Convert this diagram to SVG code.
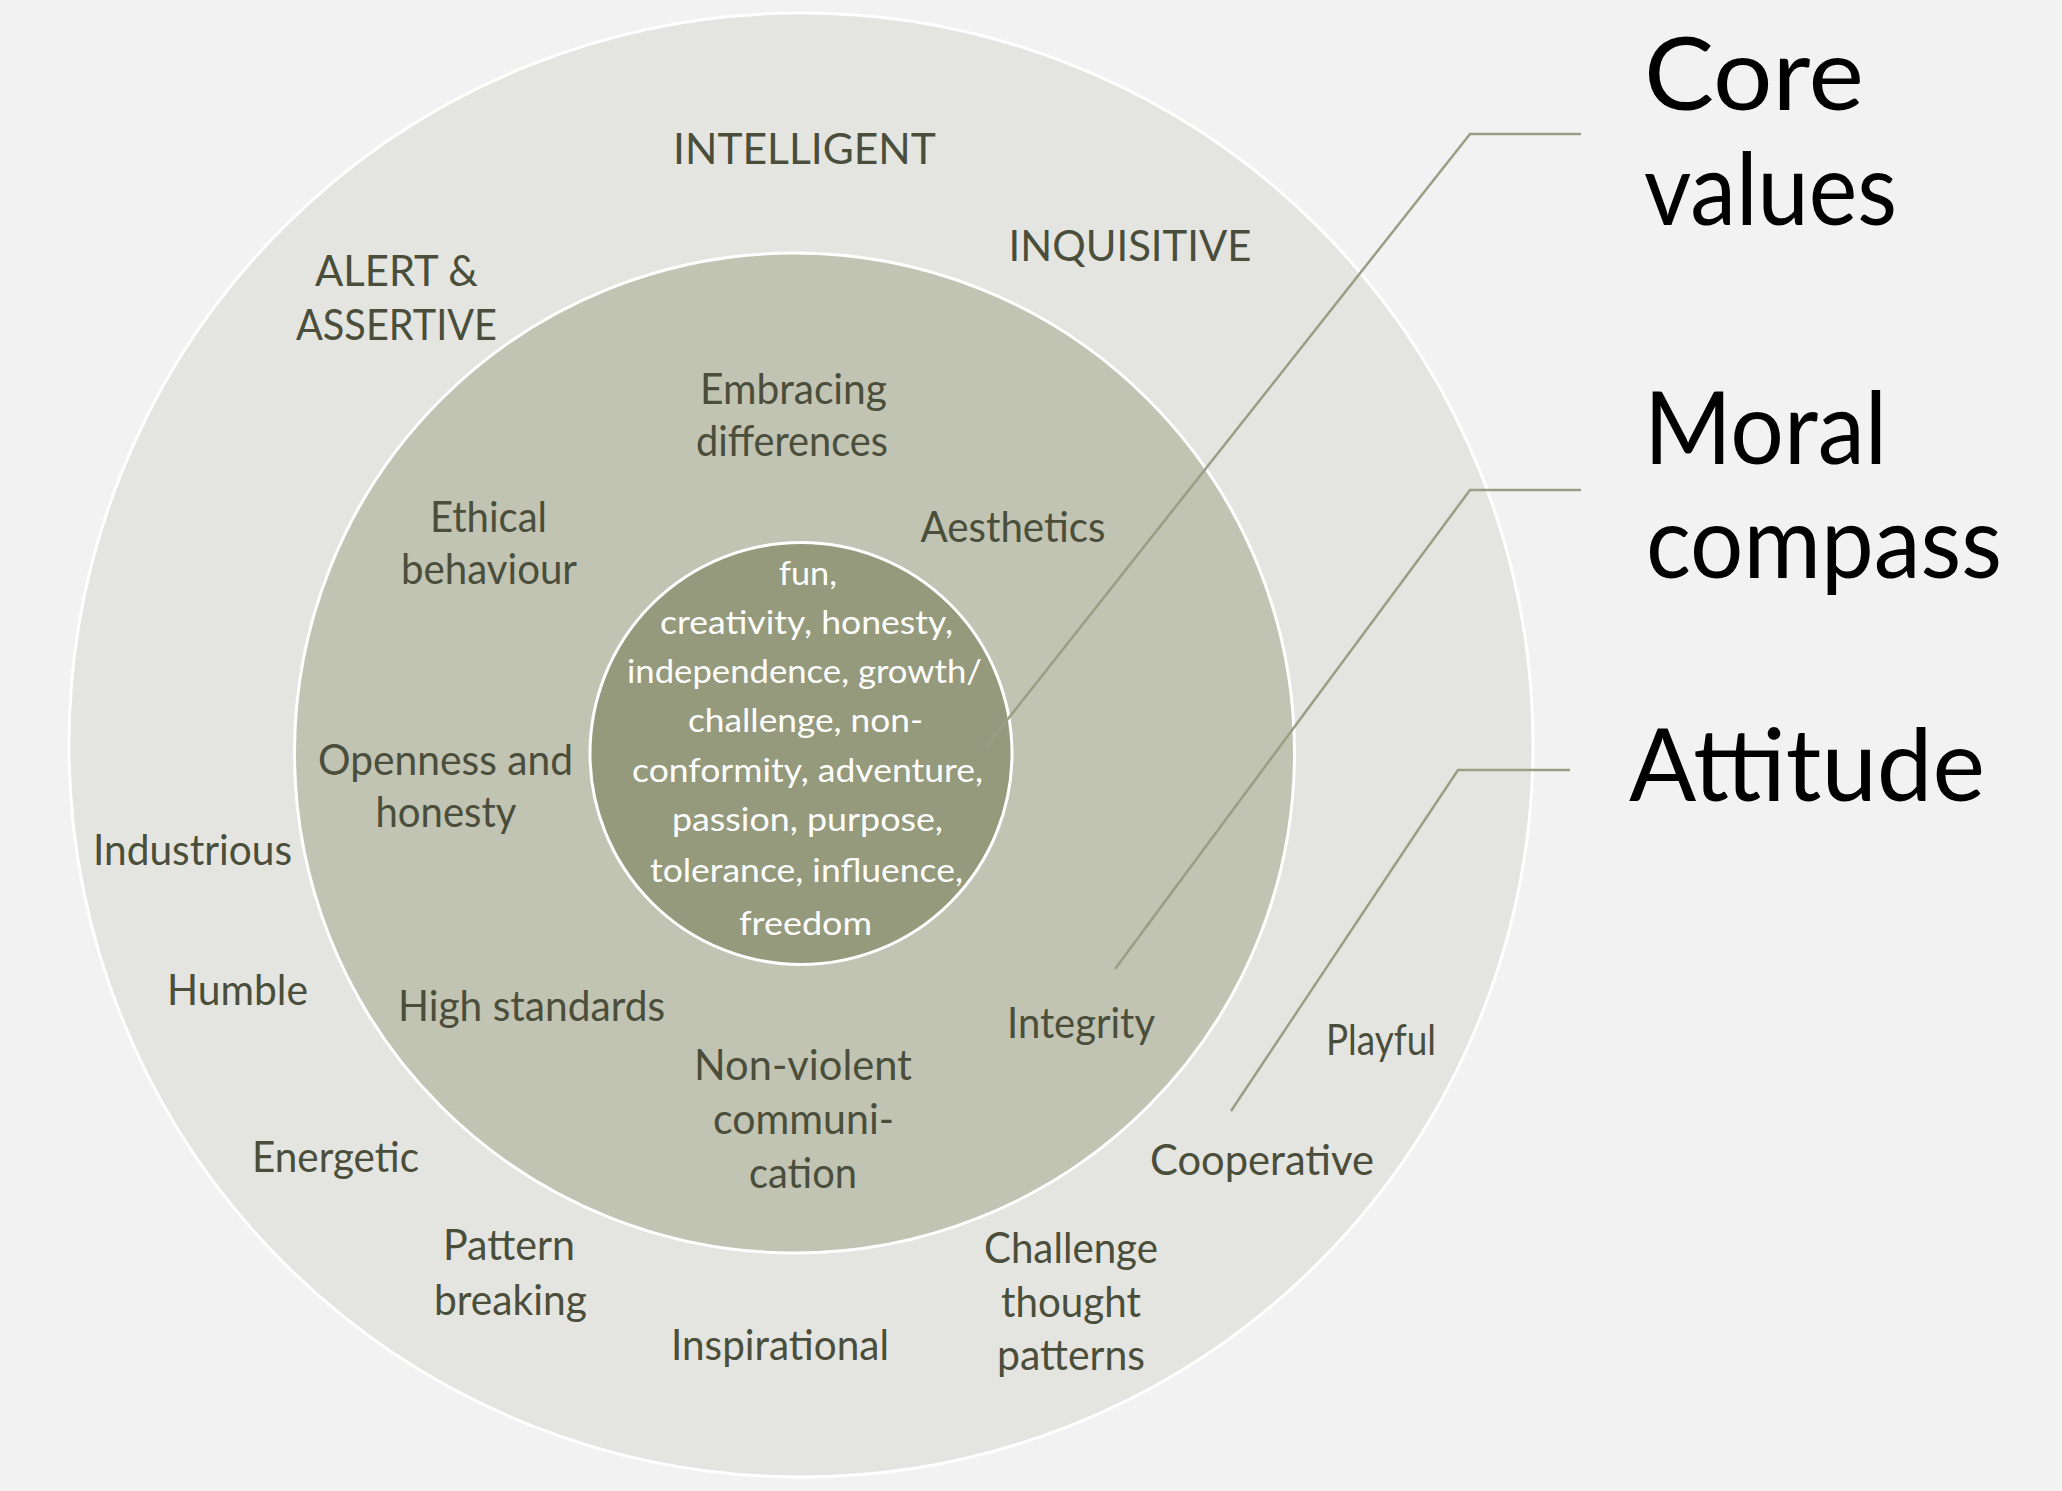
<svg xmlns="http://www.w3.org/2000/svg" width="2062" height="1491" viewBox="0 0 2062 1491">
<style>
.t{font-family:Lato,"Open Sans","Liberation Sans",sans-serif;font-size:42px;fill:#4a4e3a;text-anchor:middle}
.w{font-family:Lato,"Open Sans","Liberation Sans",sans-serif;font-size:32px;fill:#ffffff;text-anchor:middle}
.b{font-family:Lato,"Open Sans","Liberation Sans",sans-serif;font-size:100px;fill:#000000}
.ring{stroke:#ffffff;stroke-width:3}
.conn{fill:none;stroke:#9a9e84;stroke-width:2.5}
</style>
<rect x="0" y="0" width="2062" height="1491" fill="#f2f2f2"/>
<g id="attitude-ring">
<circle class="ring" cx="801" cy="745" r="732" fill="#e4e5e0"/>
<text class="t" x="804.5" y="164" textLength="263" lengthAdjust="spacingAndGlyphs">INTELLIGENT</text>
<text class="t" x="1130" y="261" textLength="243" lengthAdjust="spacingAndGlyphs">INQUISITIVE</text>
<text class="t" x="396.5" y="286" textLength="163" lengthAdjust="spacingAndGlyphs">ALERT &amp;</text>
<text class="t" x="396.5" y="340" textLength="201" lengthAdjust="spacingAndGlyphs">ASSERTIVE</text>
<text class="t" x="192.5" y="865" textLength="199" lengthAdjust="spacingAndGlyphs">Industrious</text>
<text class="t" x="237.5" y="1005" textLength="141" lengthAdjust="spacingAndGlyphs">Humble</text>
<text class="t" x="335.5" y="1172" textLength="167" lengthAdjust="spacingAndGlyphs">Energetic</text>
<text class="t" x="509" y="1260" textLength="132" lengthAdjust="spacingAndGlyphs">Pattern</text>
<text class="t" x="510.5" y="1315" textLength="153" lengthAdjust="spacingAndGlyphs">breaking</text>
<text class="t" x="780" y="1359.5" textLength="218" lengthAdjust="spacingAndGlyphs">Inspirational</text>
<text class="t" x="1071" y="1263" textLength="174" lengthAdjust="spacingAndGlyphs">Challenge</text>
<text class="t" x="1071" y="1317" textLength="140" lengthAdjust="spacingAndGlyphs">thought</text>
<text class="t" x="1071" y="1370" textLength="148" lengthAdjust="spacingAndGlyphs">patterns</text>
<text class="t" x="1262" y="1174.5" textLength="224" lengthAdjust="spacingAndGlyphs">Cooperative</text>
<text class="t" x="1381" y="1055" textLength="110" lengthAdjust="spacingAndGlyphs">Playful</text>
</g>
<g id="moral-compass-ring">
<circle class="ring" cx="794.5" cy="753" r="500" fill="#c1c3b3"/>
<text class="t" x="793.5" y="404" textLength="187" lengthAdjust="spacingAndGlyphs">Embracing</text>
<text class="t" x="792" y="456" textLength="192" lengthAdjust="spacingAndGlyphs">differences</text>
<text class="t" x="488.5" y="532" textLength="117" lengthAdjust="spacingAndGlyphs">Ethical</text>
<text class="t" x="489" y="584" textLength="176" lengthAdjust="spacingAndGlyphs">behaviour</text>
<text class="t" x="1013" y="542" textLength="185" lengthAdjust="spacingAndGlyphs">Aesthetics</text>
<text class="t" x="445.5" y="774.5" textLength="255" lengthAdjust="spacingAndGlyphs">Openness and</text>
<text class="t" x="446" y="827" textLength="141" lengthAdjust="spacingAndGlyphs">honesty</text>
<text class="t" x="531.5" y="1021" textLength="267" lengthAdjust="spacingAndGlyphs">High standards</text>
<text class="t" x="1081" y="1037.5" textLength="148" lengthAdjust="spacingAndGlyphs">Integrity</text>
<text class="t" x="803" y="1080" textLength="218" lengthAdjust="spacingAndGlyphs">Non-violent</text>
<text class="t" x="803.5" y="1134" textLength="181" lengthAdjust="spacingAndGlyphs">communi-</text>
<text class="t" x="803" y="1188" textLength="108" lengthAdjust="spacingAndGlyphs">cation</text>
</g>
<g id="core-values-circle">
<circle class="ring" cx="801" cy="753.5" r="211" fill="#959a7c"/>
<text class="w" x="808" y="585" textLength="58" lengthAdjust="spacingAndGlyphs">fun,</text>
<text class="w" x="806.5" y="634" textLength="293" lengthAdjust="spacingAndGlyphs">creativity, honesty,</text>
<text class="w" x="804.5" y="683" textLength="355" lengthAdjust="spacingAndGlyphs">independence, growth/</text>
<text class="w" x="805.5" y="732" textLength="235" lengthAdjust="spacingAndGlyphs">challenge, non-</text>
<text class="w" x="807.5" y="782" textLength="351" lengthAdjust="spacingAndGlyphs">conformity, adventure,</text>
<text class="w" x="807.5" y="830.5" textLength="271" lengthAdjust="spacingAndGlyphs">passion, purpose,</text>
<text class="w" x="806.5" y="882" textLength="313" lengthAdjust="spacingAndGlyphs">tolerance, influence,</text>
<text class="w" x="805.5" y="935" textLength="133" lengthAdjust="spacingAndGlyphs">freedom</text>
</g>
<g id="connectors">
<polyline class="conn" points="1581,134 1470,134 985,748"/>
<polyline class="conn" points="1581,490 1470,490 1115,969"/>
<polyline class="conn" points="1570,770 1458,770 1231,1111"/>
</g>
<g id="label-core-values">
<text class="b" x="1644" y="110" textLength="220" lengthAdjust="spacingAndGlyphs">Core</text>
<text class="b" x="1644" y="225" textLength="253" lengthAdjust="spacingAndGlyphs">values</text>
</g>
<g id="label-moral-compass">
<text class="b" x="1644" y="464" textLength="243" lengthAdjust="spacingAndGlyphs">Moral</text>
<text class="b" x="1646" y="578" textLength="356" lengthAdjust="spacingAndGlyphs">compass</text>
</g>
<g id="label-attitude">
<text class="b" x="1629" y="801" textLength="356" lengthAdjust="spacingAndGlyphs">Attitude</text>
</g>
</svg>
